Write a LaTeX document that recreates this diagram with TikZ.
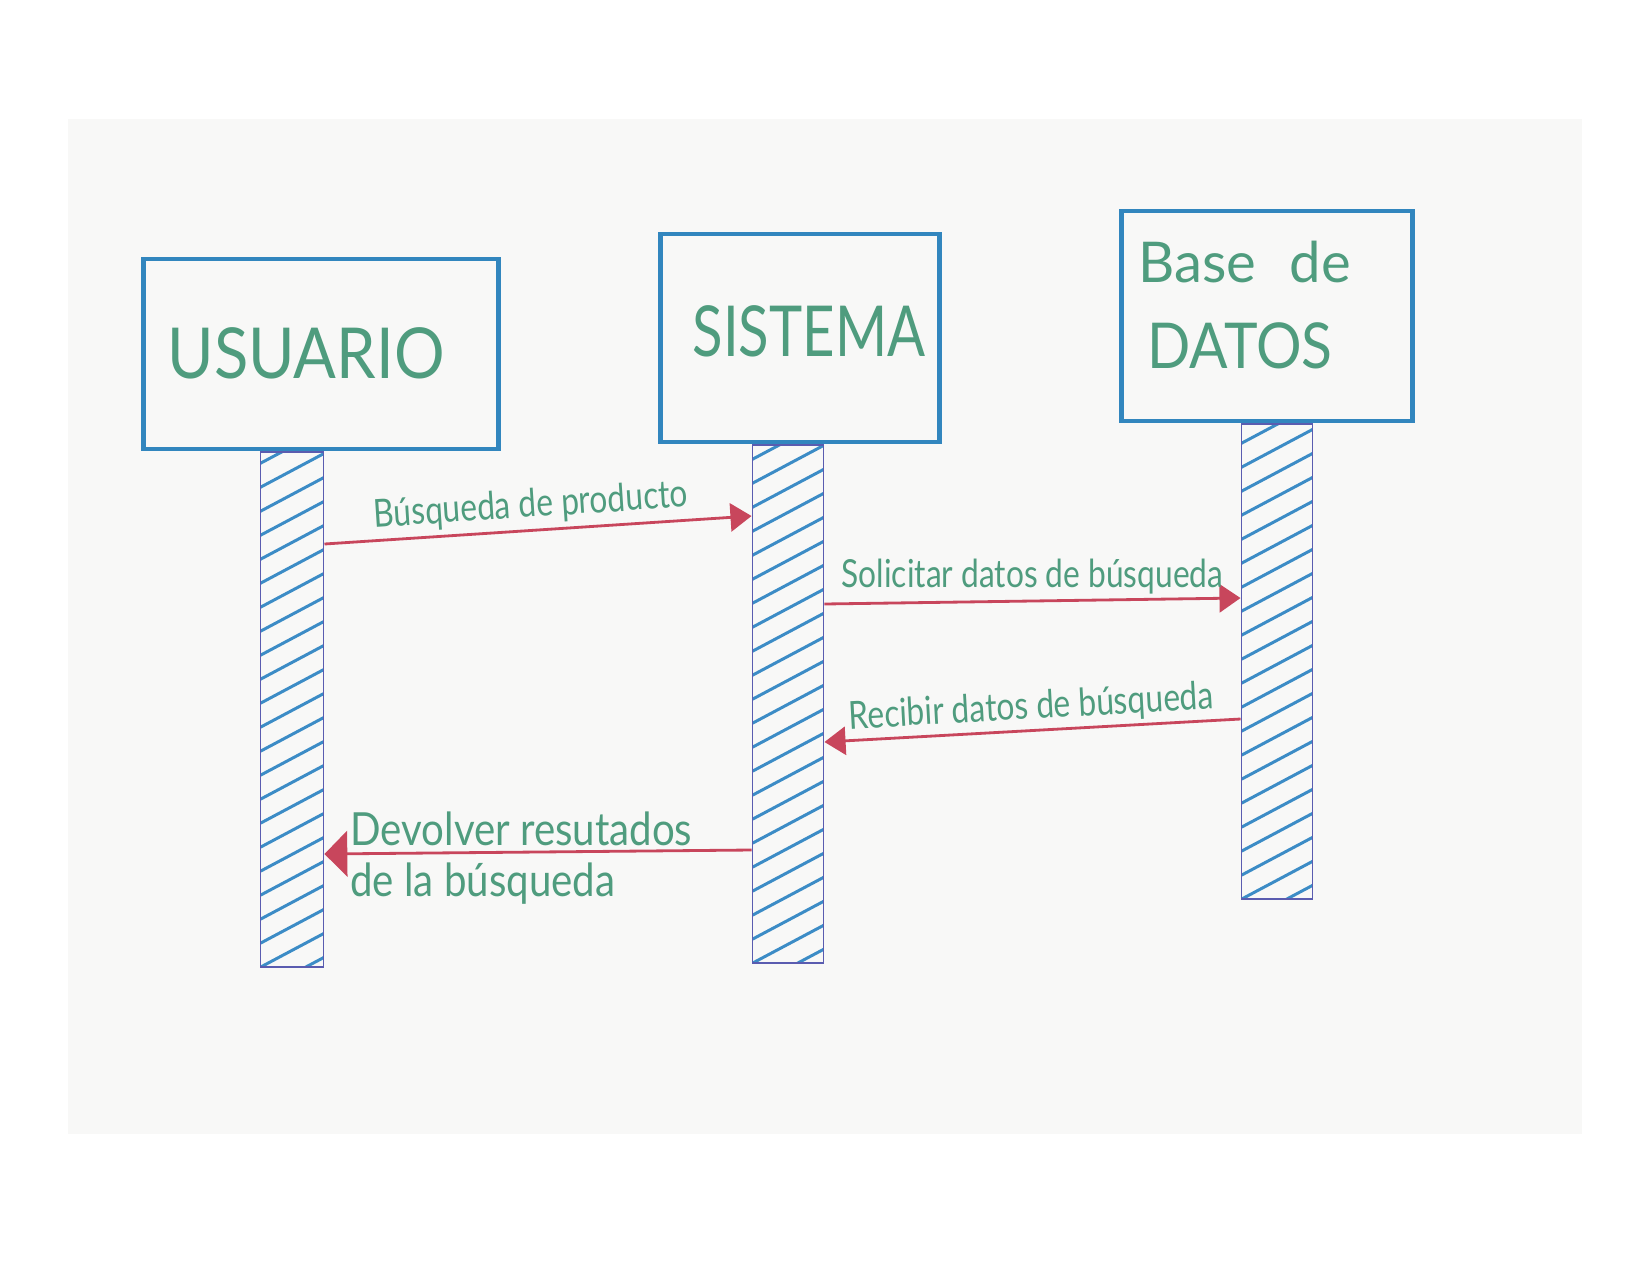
\documentclass[tikz,border=0pt]{standalone}
\usepackage{fontspec}
\setmainfont{Lato}
\usetikzlibrary{arrows.meta,positioning}

\definecolor{paper}{HTML}{F8F8F7}
\definecolor{boxblue}{HTML}{3286BE}
\definecolor{hatchblue}{HTML}{3C8CC6}
\definecolor{barline}{HTML}{5A5CB0}
\definecolor{msgred}{HTML}{C8465C}
\definecolor{inkgreen}{HTML}{4F9C7E}

\tikzset{
  actor/.style 2 args={draw=boxblue, line width=2.6pt, minimum width=#1, minimum height=#2,
    text=inkgreen, font=\fontsize{40}{44}\selectfont},
  lifebar/.style={draw=barline, line width=1.1pt, minimum width=#1, inner sep=0pt,
    path picture={
      \foreach \k in {-4,...,24}
        \draw[hatchblue, line width=1.7pt]
          ([yshift=\k*0.48cm]path picture bounding box.south west) -- ++(28:2.4cm);
    }},
  msg/.style={draw=msgred, line width=1.6pt, -{Triangle[length=12pt,width=16pt]}},
  msglabel/.style={text=inkgreen, font=\fontsize{22}{24}\selectfont, xscale=0.82, inner sep=2pt},
  biglabel/.style={text=inkgreen, font=\fontsize{26}{28}\selectfont, xscale=0.88, inner sep=2pt},
}

\begin{document}
\begin{tikzpicture}[x=0.02cm, y=-0.02cm]
  \useasboundingbox (0,0) rectangle (1650,1275);
  \fill[paper] (68,119) rectangle (1582,1134);

  % participants
  \node[actor={7.1cm}{3.8cm}] (usuario) at (321,354) {};
  \node[text=inkgreen, font=\fontsize{40}{44}\selectfont, xscale=0.9] (usuariotxt) at (306,353) {USUARIO};
  \node[actor={5.58cm}{4.16cm}] (sistema) at (800,338) {};
  \node[text=inkgreen, font=\fontsize{40}{44}\selectfont, xscale=0.8] (sistematxt) at (809,331) {SISTEMA};
  \node[actor={5.82cm}{4.2cm}] (datos) at (1267,316) {};
  \node[text=inkgreen, font=\fontsize{32}{36}\selectfont, anchor=west] (datostxt1) at (1132,262) {Base\hspace{0.6em}de};
  \node[text=inkgreen, font=\fontsize{36}{40}\selectfont, xscale=0.9, anchor=west] (datostxt2) at (1142,346) {DATOS};

  % activation bars
  \node[lifebar=1.26cm, minimum height=10.3cm, below=0pt of usuario.south, xshift=-0.58cm] (ubar) {};
  \node[lifebar=1.42cm, minimum height=10.36cm, below=0pt of sistema.south, xshift=-0.24cm] (sbar) {};
  \node[lifebar=1.42cm, minimum height=9.5cm, below=0pt of datos.south, xshift=0.2cm] (dbar) {};

  % messages
  \draw[msg] (ubar.east |- 0,544) -- (sbar.west |- 0,516)
    node[msglabel, midway, above=1pt, sloped, xshift=-4pt] (m1) {Búsqueda de producto};
  \draw[msg] (sbar.east |- 0,604) -- (dbar.west |- 0,598)
    node[msglabel, midway, above=1pt] (m2) {Solicitar datos de búsqueda};
  \draw[msg] (dbar.west |- 0,719) -- (sbar.east |- 0,742)
    node[msglabel, midway, above=0pt, sloped] (m3) {Recibir datos de búsqueda};
  \draw[msg, -{Triangle[length=13pt,width=26pt]}] (sbar.west |- 0,850) -- (ubar.east |- 0,854)
    node[biglabel, pos=1, anchor=south west, xshift=14pt, yshift=2pt] (m4a) {Devolver resutados}
    node[biglabel, pos=1, anchor=north west, xshift=14pt, yshift=-2pt] (m4b) {de la búsqueda};
\end{tikzpicture}
\end{document}
